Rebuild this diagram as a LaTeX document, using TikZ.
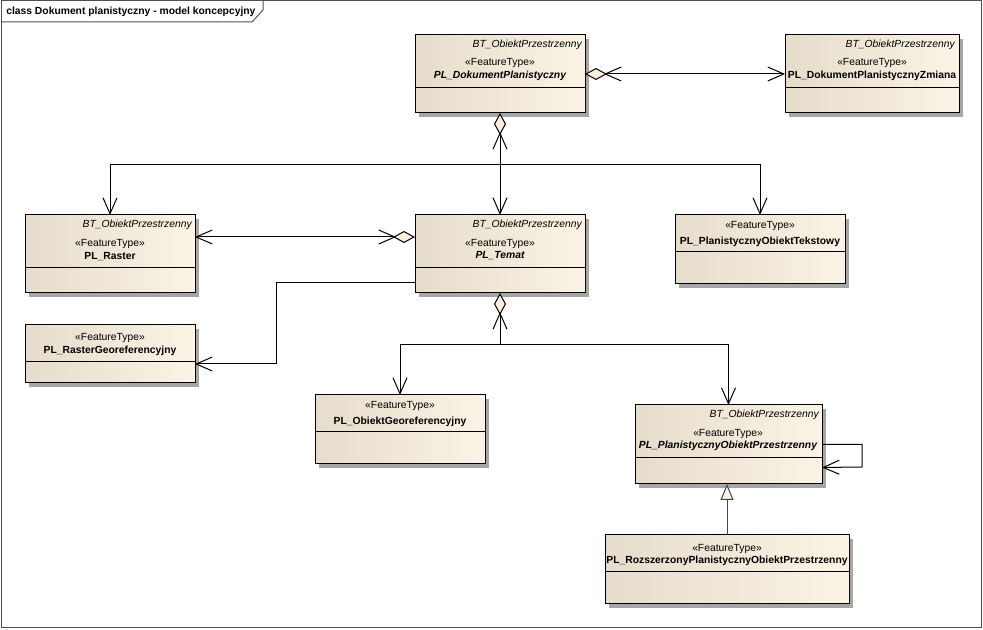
\documentclass[tikz,border=0pt]{standalone}
\usepackage{fontspec}
\setmainfont{Liberation Sans}
\usetikzlibrary{arrows.meta,shadows,calc}
\definecolor{boxL}{RGB}{230,220,203}
\definecolor{boxR}{RGB}{251,243,229}
\definecolor{dfill}{RGB}{252,238,220}
\definecolor{framec}{RGB}{80,80,80}
\definecolor{genc}{RGB}{70,70,70}
\tikzset{
  umlbox/.style={draw=black, line width=0.75pt, left color=boxL, right color=boxR,
    inner sep=0pt, outer sep=0pt,
    drop shadow={shadow xshift=3pt, shadow yshift=-3pt, fill=black!35, opacity=1}},
  conn/.style={draw=black, line width=0.75pt},
  sepline/.style={draw=black, line width=0.75pt},
  obarb/.tip={Straight Barb[length=12pt,width=10.5pt,line width=0.75pt]},
  agg/.tip={Diamond[length=16.5pt,width=9pt,fill=dfill,line width=0.75pt]},
  gtri/.tip={Triangle[length=12pt,width=9.75pt,fill=boxR,line width=0.75pt]},
  txt/.style={inner sep=0pt, font=\fontsize{7.75}{9}\selectfont},
  ptxt/.style={txt, anchor=east, font=\fontsize{7.75}{9}\selectfont\itshape},
  stxt/.style={txt},
  ntxt/.style={txt, font=\fontsize{7.75}{9}\selectfont\bfseries},
  nitxt/.style={txt, font=\fontsize{7.75}{9}\selectfont\bfseries\itshape},
}
\newcommand\ubox[6]{%
  \node[umlbox, minimum width={#4*0.75pt}, minimum height={#5*0.75pt}, anchor=north west] (#1) at (#2,#3) {};
  \draw[sepline] ([yshift=-#6*0.75pt]#1.north west) -- ([yshift=-#6*0.75pt]#1.north east);
}
\begin{document}
\begin{tikzpicture}[x=0.75pt,y=-0.75pt]
\useasboundingbox (0,0) rectangle (983,630);
% frame
\draw[framec, line width=0.75pt] (1,1) rectangle (981,628);
\draw[framec, line width=0.75pt] (1,22) -- (252,22) -- (263,10) -- (263,1);
\node[txt, font=\fontsize{7.75}{9}\selectfont\bfseries, anchor=west] (title) at (6,12) {class Dokument planistyczny - model koncepcyjny};

% boxes
\ubox{dp}{415}{35}{170}{78}{53}
\node[ptxt] (dp-p) at (582,45) {BT\_ObiektPrzestrzenny};
\node[stxt] (dp-s) at (500,63) {«FeatureType»};
\node[nitxt] (dp-n) at (500,76) {PL\_DokumentPlanistyczny};

\ubox{dpz}{785}{35}{174}{78}{53}
\node[ptxt] (dpz-p) at (955,45) {BT\_ObiektPrzestrzenny};
\node[stxt] (dpz-s) at (872,63) {«FeatureType»};
\node[ntxt] (dpz-n) at (872,76) {PL\_DokumentPlanistycznyZmiana};

\ubox{raster}{25}{215}{170}{78}{53}
\node[ptxt] (raster-p) at (192,225) {BT\_ObiektPrzestrzenny};
\node[stxt] (raster-s) at (110,244) {«FeatureType»};
\node[ntxt] (raster-n) at (110,257) {PL\_Raster};

\ubox{temat}{415}{215}{170}{78}{53}
\node[ptxt] (temat-p) at (582,225) {BT\_ObiektPrzestrzenny};
\node[stxt] (temat-s) at (500,244) {«FeatureType»};
\node[nitxt] (temat-n) at (500,256) {PL\_Temat};

\ubox{tekst}{675}{215}{170}{69}{37}
\node[stxt] (tekst-s) at (760,226) {«FeatureType»};
\node[ntxt] (tekst-n) at (760,242) {PL\_PlanistycznyObiektTekstowy};

\ubox{rgeo}{25}{325}{170}{58}{37}
\node[stxt] (rgeo-s) at (110,338) {«FeatureType»};
\node[ntxt] (rgeo-n) at (110,351) {PL\_RasterGeoreferencyjny};

\ubox{ogeo}{315}{395}{170}{69}{37}
\node[stxt] (ogeo-s) at (400,406) {«FeatureType»};
\node[ntxt] (ogeo-n) at (400,422) {PL\_ObiektGeoreferencyjny};

\ubox{pop}{635}{405}{187}{79}{53}
\node[ptxt] (pop-p) at (819,415) {BT\_ObiektPrzestrzenny};
\node[stxt] (pop-s) at (728,434) {«FeatureType»};
\node[nitxt] (pop-n) at (728,446) {PL\_PlanistycznyObiektPrzestrzenny};

\ubox{rpop}{605}{535}{244}{69}{37}
\node[stxt] (rpop-s) at (727,549) {«FeatureType»};
\node[ntxt] (rpop-n) at (727,561) {PL\_RozszerzonyPlanistycznyObiektPrzestrzenny};

% DP <-> DPZ
\draw[conn, {agg}-{obarb}] (dp.east) -- (dpz.west);
\coordinate (dpa1) at ($(dp.east)+(19,0)$);
\coordinate (dpa2) at ($(dp.east)+(36,0)$);
\draw[conn, -{obarb}] (dpa2) -- (dpa1);

% DP -> Temat, Raster, Tekst
\coordinate (j1) at (500,165);
\draw[conn, {agg}-{obarb}] (dp.south) -- (temat.north);
\coordinate (dpb1) at ($(dp.south)+(0,19)$);
\coordinate (dpb2) at ($(dp.south)+(0,36)$);
\draw[conn, -{obarb}] (dpb2) -- (dpb1);
\draw[conn, -{obarb}] (j1) -| (raster.north);
\draw[conn, -{obarb}] (j1) -| (tekst.north);

% Temat <-> Raster
\coordinate (tr1) at ($(temat.west)+(0,-17)$);
\coordinate (tr2) at ($(raster.east)+(0,-17)$);
\draw[conn, {agg}-{obarb}] (tr1) -- (tr2);
\coordinate (tra1) at ($(tr1)+(-19,0)$);
\coordinate (tra2) at ($(tr1)+(-36,0)$);
\draw[conn, -{obarb}] (tra2) -- (tra1);

% Temat -> RasterGeo
\coordinate (tg1) at ($(temat.west)+(0,29)$);
\coordinate (tgb) at (276,364);
\draw[conn, -{obarb}] (tg1) -| (tgb) -- ($(rgeo.east)+(0,10)$);

% Temat -> ObiektGeo, POP
\coordinate (j2) at (500,345);
\draw[conn, {agg}-] (temat.south) -- (j2);
\coordinate (tb1) at ($(temat.south)+(0,19)$);
\coordinate (tb2) at ($(temat.south)+(0,36)$);
\draw[conn, -{obarb}] (tb2) -- (tb1);
\draw[conn, -{obarb}] (j2) -| (ogeo.north);
\draw[conn, -{obarb}] (j2) -| (pop.north);

% self loop
\coordinate (sl) at (862,467);
\draw[conn, -{obarb}] (pop.east) -| (sl) -- ($(pop.east)+(0,23)$);

% generalization
\draw[draw=genc, line width=0.75pt, -{gtri}] (rpop.north) -- (rpop.north |- pop.south);
\end{tikzpicture}
\end{document}
